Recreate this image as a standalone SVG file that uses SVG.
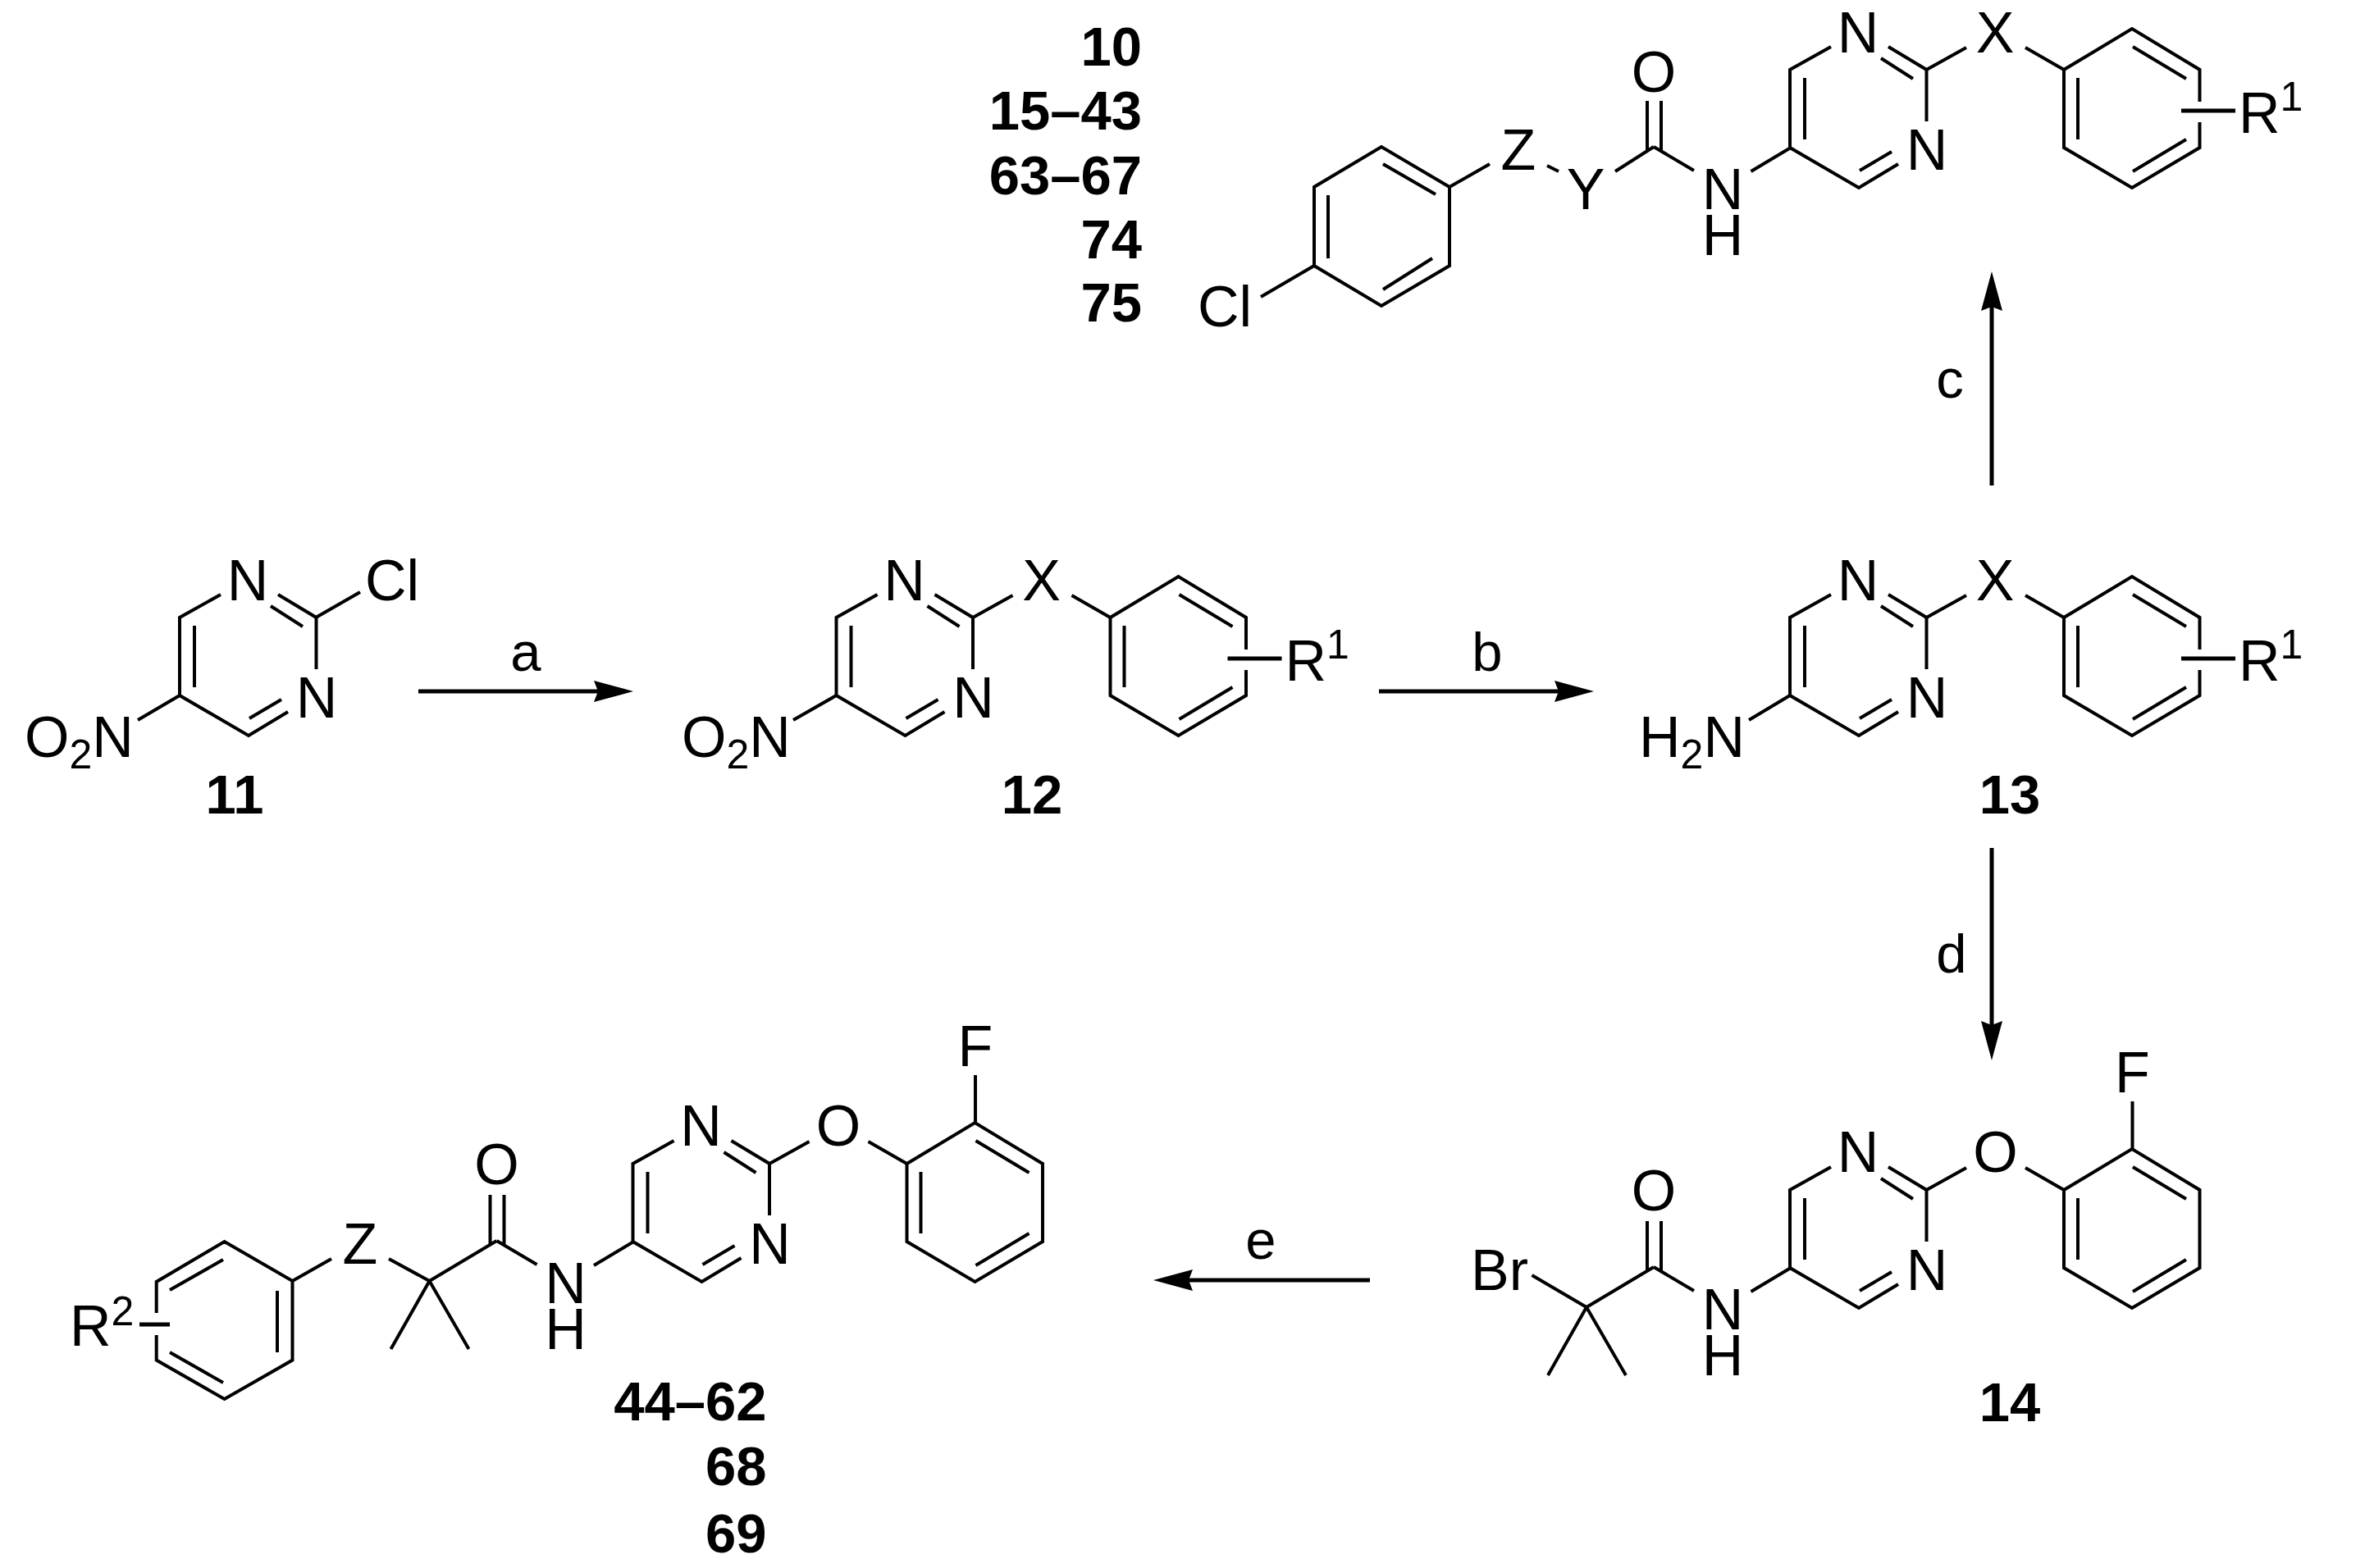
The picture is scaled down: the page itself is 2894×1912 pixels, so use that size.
<svg xmlns="http://www.w3.org/2000/svg" width="2894" height="1912" viewBox="0 0 2894 1912">
<style>
.b{fill:none;stroke:#000;stroke-width:4;stroke-linecap:butt;stroke-linejoin:miter}
.r{fill:none;stroke:#000;stroke-width:5}
text{font-family:"Liberation Sans",Arial,sans-serif;font-size:70px;fill:#000}
.m{text-anchor:middle}
.l{font-size:67px;text-anchor:middle}
.n{font-weight:bold;font-size:67px;text-anchor:end}
.c{font-weight:bold;font-size:67px;text-anchor:middle}
.s{font-size:50px}
.arrow{fill:none;stroke:#000;stroke-width:5;marker-end:url(#head)}
</style>
<defs>
<marker id="head" markerUnits="userSpaceOnUse" markerWidth="50" markerHeight="30" refX="28" refY="15" orient="auto"><path d="M0 2 L48 15 L0 28 L5 15Z" fill="#000"/></marker>
<path id="pyrim" class="b" d="M2232 725 L2182 753 V848 L2266 897 L2314 868 M2200 763 V838 M2267 876 L2306 853 M2302 725 L2348.5 753 V816 M2293 739 L2332 764"/>
<path id="ph" class="b" d="M2516 753 L2599 703 L2681.5 753 V848 L2599 897 L2516 848 Z M2533 763 V838 M2600 725 L2665 764 M2600 877 L2665 838"/>
<path id="phR" class="b" d="M2681.5 792 V753 L2599 703 L2516 753 V848 L2599 897 L2681.5 848 V817 M2533 763 V838 M2600 725 L2665 764 M2600 877 L2665 838"/>
<path id="xb" class="b" d="M2348.5 753 L2397 726 M2469 726 L2516 753"/>
<path id="amide" class="b" d="M2008 1489 V1550 M2025 1489 V1550 M2016 1545 L2065 1574 M2183 1546 L2134.5 1575"/>
<path id="cq" class="b" d="M2016 1545 L1934 1594 M1934 1594 L1887 1677 M1934 1594 L1982 1677"/>
</defs>
<g id="connectors">
<path class="arrow" d="M510 843 H752"/>
<path class="arrow" d="M1681 843 H1923"/>
<path class="arrow" d="M2428 592 V351"/>
<path class="arrow" d="M2428 1034 V1273"/>
<path class="arrow" d="M1670 1561 H1426"/>
<text class="l" x="641" y="818">a</text>
<text class="l" x="1813" y="818">b</text>
<text class="l" x="2377" y="485">c</text>
<text class="l" x="2379" y="1186">d</text>
<text class="l" x="1537" y="1535">e</text>
</g>
<g id="c10">
<use href="#pyrim" transform="translate(0,-668)"/>
<use href="#phR" transform="translate(0,-668)"/>
<use href="#xb" transform="translate(0,-668)"/>
<path class="r" d="M2659 135 H2725"/>
<use href="#amide" transform="translate(0,-1366)"/>
<path class="b" d="M2016 179 L1969 209 M1886 202 L1900 209 M1767 228 L1816 200 M1767 228 L1684 179 L1602 228 V324 L1684 373 L1767 324 Z M1686 200 L1750 237 M1746 315 L1686 353 M1619 238 V315 M1602 324 L1537 362"/>
<text class="m" x="2265" y="64">N</text><text class="m" x="2349" y="207">N</text><text class="m" x="2432" y="64">X</text>
<text x="2729" y="162">R<tspan class="s" dy="-27">1</tspan></text>
<text class="m" x="2016" y="112">O</text><text class="m" x="2100" y="255">N<tspan x="2100" dy="56">H</tspan></text>
<text class="m" x="1933" y="255">Y</text><text class="m" x="1851" y="207">Z</text>
<text x="1460" y="398">Cl</text>
<text class="n" x="1392" y="80">10</text>
<text class="n" x="1392" y="158">15–43</text>
<text class="n" x="1392" y="237">63–67</text>
<text class="n" x="1392" y="315">74</text>
<text class="n" x="1392" y="392">75</text>
</g>
<g id="c11">
<use href="#pyrim" transform="translate(-1963,0)"/>
<path class="b" d="M385 753 L439 722 M219 848 L168 878"/>
<text class="m" x="302" y="732">N</text><text class="m" x="386" y="875">N</text>
<text x="445" y="732">Cl</text>
<text x="30" y="923">O<tspan class="s" dy="14">2</tspan><tspan dy="-14">N</tspan></text>
<text class="c" x="286" y="992">11</text>
</g>
<g id="c12">
<use href="#pyrim" transform="translate(-1162.5,0)"/>
<use href="#phR" transform="translate(-1162.5,0)"/>
<use href="#xb" transform="translate(-1162.5,0)"/>
<path class="r" d="M1496.5 803 H1562.5"/>
<path class="b" d="M1019.5 848 L967 878"/>
<text class="m" x="1102.5" y="732">N</text><text class="m" x="1186.5" y="875">N</text><text class="m" x="1269.5" y="732">X</text>
<text x="1566.5" y="830">R<tspan class="s" dy="-27">1</tspan></text>
<text x="831" y="923">O<tspan class="s" dy="14">2</tspan><tspan dy="-14">N</tspan></text>
<text class="c" x="1258" y="992">12</text>
</g>
<g id="c13">
<use href="#pyrim"/>
<use href="#phR"/>
<use href="#xb"/>
<path class="r" d="M2659 803 H2725"/>
<path class="b" d="M2182 848 L2132 878"/>
<text class="m" x="2265" y="732">N</text><text class="m" x="2349" y="875">N</text><text class="m" x="2432" y="732">X</text>
<text x="2729" y="830">R<tspan class="s" dy="-27">1</tspan></text>
<text x="1998" y="923">H<tspan class="s" dy="14">2</tspan><tspan dy="-14">N</tspan></text>
<text class="c" x="2450" y="992">13</text>
</g>
<g id="c14">
<use href="#pyrim" transform="translate(0,698)"/>
<use href="#ph" transform="translate(0,698)"/>
<use href="#xb" transform="translate(0,698)"/>
<use href="#amide"/>
<use href="#cq"/>
<path class="b" d="M2599.5 1343 V1401 M1867.5 1555 L1934 1594"/>
<text class="m" x="2265" y="1429">N</text><text class="m" x="2349" y="1573">N</text><text class="m" x="2432.5" y="1429">O</text>
<text class="m" x="2599.5" y="1332">F</text>
<text class="m" x="2016" y="1476">O</text><text class="m" x="2100" y="1621">N<tspan x="2100" dy="56">H</tspan></text>
<text x="1793" y="1573">Br</text>
<text class="c" x="2450" y="1733">14</text>
</g>
<g id="c44">
<g transform="translate(-1410.5,-32)">
<use href="#pyrim" transform="translate(0,698)"/>
<use href="#ph" transform="translate(0,698)"/>
<use href="#xb" transform="translate(0,698)"/>
<use href="#amide"/>
<use href="#cq"/>
<path class="b" d="M2599.5 1343 V1401"/>
<text class="m" x="2265" y="1429">N</text><text class="m" x="2349" y="1573">N</text><text class="m" x="2432.5" y="1429">O</text>
<text class="m" x="2599.5" y="1332">F</text>
<text class="m" x="2016" y="1476">O</text><text class="m" x="2100" y="1621">N<tspan x="2100" dy="56">H</tspan></text>
</g>
<path class="b" d="M523.5 1562 L474 1535 M404 1535 L356.5 1562 L273.6 1514 L190.7 1563 V1601 M190.7 1628 V1658.5 L273.6 1706 L356.5 1658.5 V1562 M338 1574 V1649 M207 1573 L272 1536 M207 1649 L272 1686"/>
<path class="r" d="M170 1615 H207"/>
<text class="m" x="439" y="1541">Z</text>
<text x="85" y="1641">R<tspan class="s" dy="-25">2</tspan></text>
<text class="n" x="934.5" y="1732">44–62</text>
<text class="n" x="934.5" y="1811">68</text>
<text class="n" x="934.5" y="1893">69</text>
</g>
</svg>
